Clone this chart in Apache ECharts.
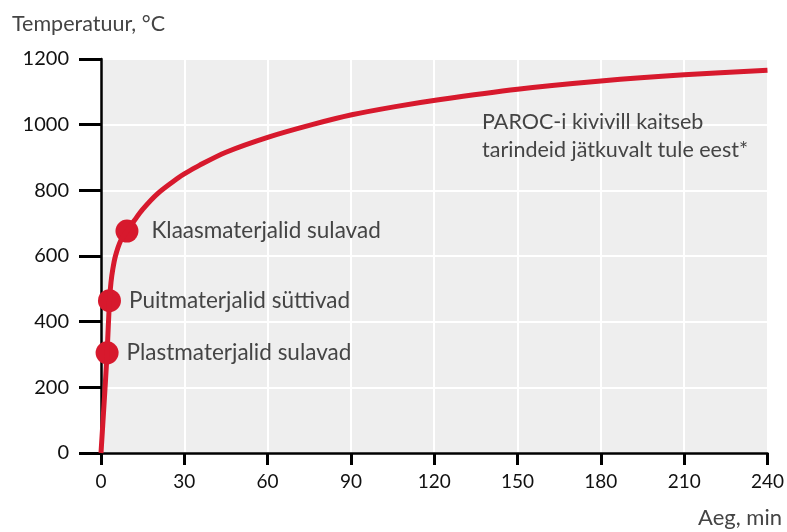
<!DOCTYPE html>
<html>
<head>
<meta charset="utf-8">
<script src="https://cdn.jsdelivr.net/npm/echarts@6/dist/echarts.min.js"></script>
<style>
html,body{margin:0;padding:0;background:#fff;}
#chart{width:787px;height:532px;}
</style>
</head>
<body>
<div id="chart"></div>
<script>
// Time (min) and temperature (°C)
const timeMin = [0, 1.1, 2.2, 3.05, 3.6, 4.25, 5.2, 7, 9.35, 12, 15, 20.4, 28, 30, 35.4, 45, 60.3, 76, 90.3, 106, 121.6, 150, 180, 210, 240];
const tempC   = [0, 150, 305, 464, 520, 560, 600, 645, 676, 708, 742, 790, 839, 850, 876, 916, 962, 1000, 1030, 1055, 1076, 1108, 1133, 1152, 1166];

const eventNames = ['Plastmaterjalid sulavad', 'Puitmaterjalid süttivad', 'Klaasmaterjalid sulavad'];
const eventTime  = [2.2, 3.05, 9.35];
const eventTemp  = [305, 464, 676];

const xTicks = [0, 240, 30];
const yTicks = [0, 1200, 200];

const yTitle = 'Temperatuur, °C';
const xTitle = 'Aeg, min';
const noteLines = ['PAROC-i kivivill kaitseb', 'tarindeid jätkuvalt tule eest*'];

const RED = '#d7192d';
const FONT = 'Lato';

const chart = echarts.init(document.getElementById('chart'), null, {renderer: 'canvas'});
const option = {
  animation: false,
  textStyle: {fontFamily: FONT},
  grid: {left: 101, right: 18, top: 59, bottom: 79, show: true, backgroundColor: '#eeeeee', borderWidth: 0},
  xAxis: {
    type: 'value', min: xTicks[0], max: xTicks[1], interval: xTicks[2],
    axisLine: {show: true, lineStyle: {color: '#000', width: 2.5}},
    axisTick: {show: true, length: 12, lineStyle: {color: '#000', width: 3}},
    axisLabel: {fontSize: 19, color: '#111', margin: 19, fontFamily: FONT, formatter: v => String(v)},
    splitLine: {show: true, lineStyle: {color: '#ffffff', width: 2}}
  },
  yAxis: {
    type: 'value', min: yTicks[0], max: yTicks[1], interval: yTicks[2],
    axisLine: {show: true, lineStyle: {color: '#000', width: 2.5}},
    axisTick: {show: true, length: 22, lineStyle: {color: '#000', width: 3}},
    axisLabel: {fontSize: 20, color: '#111', margin: 32, fontFamily: FONT, formatter: v => String(v)},
    splitLine: {show: true, lineStyle: {color: '#ffffff', width: 2}}
  },
  graphic: [
    {type: 'text', z: 100, left: 12, top: 13, style: {text: yTitle, fontSize: 21.5, fill: '#444', fontFamily: FONT}},
    {type: 'text', z: 100, right: 5, top: 507, style: {text: xTitle, fontSize: 22, fill: '#444', fontFamily: FONT}},
    {type: 'text', z: 100, left: 482, top: 108, style: {text: noteLines.join('\n'), fontSize: 21.5, lineHeight: 28, fill: '#444', fontFamily: FONT}}
  ],
  series: [
    {
      type: 'line', smooth: 0.3, showSymbol: false,
      data: timeMin.map((t, i) => [t, tempC[i]]),
      lineStyle: {color: RED, width: 5}
    },
    {
      type: 'scatter', symbolSize: 23, itemStyle: {color: RED, opacity: 1},
      data: eventNames.map((n, i) => ({
        name: n, value: [eventTime[i], eventTemp[i]],
        label: {distance: i === 2 ? 13 : 8}
      })),
      label: {show: true, position: 'right', formatter: '{b}', fontSize: 22.5, color: '#444', fontFamily: FONT}
    }
  ]
};
chart.setOption(option);
</script>
</body>
</html>
